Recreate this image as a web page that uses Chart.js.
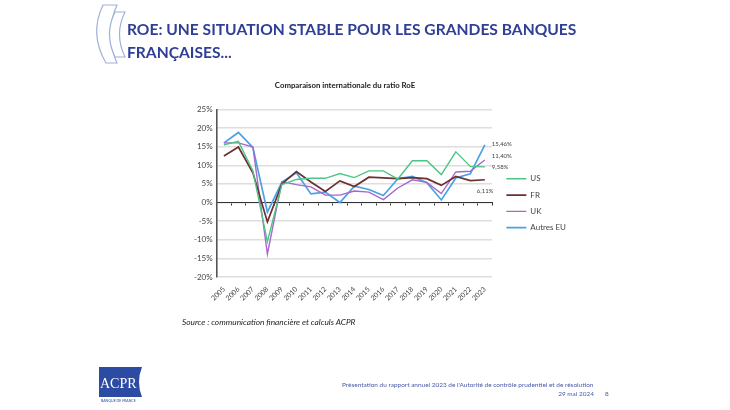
<!DOCTYPE html>
<html><head><meta charset="utf-8">
<script src="https://cdn.jsdelivr.net/npm/chart.js@4"></script>
<style>
html,body{margin:0;padding:0;background:#fff;width:730px;height:410px;overflow:hidden}
#page{position:relative;width:730px;height:410px;filter:blur(.45px)}
canvas{position:absolute;left:0;top:0}
.t{position:absolute;white-space:nowrap}
#h1,#h2{left:127px;font:700 15.6px Lato,sans-serif;color:#2f3f95}
#h1{top:20px}#h2{top:43px}
#src{left:182px;top:317px;font:italic 400 8.3px Lato,sans-serif;color:#222}
.f{font:6.46px Lato,sans-serif;color:#4a5aa5}
</style></head><body>
<div id="page">
<svg style="position:absolute;left:0;top:0" width="730" height="410">
<path d="M103 5L117 5Q104 34 117 63L106 63Q89 34 103 5Z" fill="#fff" stroke="#9fb0da" stroke-width="1.2"/>
<path d="M115 12L125 12Q114 34 125 57L115 57Q104 34 115 12Z" fill="#fff" stroke="#9fb0da" stroke-width="1.2"/>
<path d="M99 367H142Q136 382 142 397H99Z" fill="#2c4ba3"/>
<text x="100" y="388" font-family="Liberation Serif" font-size="14" fill="#fff">ACPR</text>
<text x="101" y="402" font-family="Lato" font-size="3.5" fill="#2c4ba3">BANQUE DE FRANCE</text>
</svg>
<canvas id="c" width="690" height="320"></canvas>
<div class="t" id="h1">ROE: UNE SITUATION STABLE POUR LES GRANDES BANQUES</div>
<div class="t" id="h2">FRANÇAISES...</div>
<div class="t" id="src">Source : communication financière et calculs ACPR</div>
<div class="t f" style="left:342px;top:381px">Présentation du rapport annuel 2023 de l'Autorité de contrôle prudentiel et de résolution</div>
<div class="t f" style="right:136px;top:390px">29 mai 2024</div>
<div class="t f" style="left:605px;top:390px">8</div>
</div>
<script>
const years=['2005','2006','2007','2008','2009','2010','2011','2012','2013','2014','2015','2016','2017','2018','2019','2020','2021','2022','2023'];
const us=[15.5,16.4,8.5,-10.5,4.8,6.2,6.5,6.5,7.8,6.7,8.5,8.5,6.3,11.2,11.2,7.5,13.6,9.7,9.58];
const fr=[12.5,14.9,8,-5.2,5,8.3,5.5,3,5.8,4.3,6.8,6.6,6.4,6.7,6.4,4.6,7,5.9,6.11];
const uk=[16,16,14.9,-13.8,5.6,4.8,4.2,2,2,3.1,2.8,0.8,3.9,6.1,5.4,2.4,8.2,8.4,11.4];
const autres=[16,18.8,14.8,-2.6,5.5,8,2.3,2.8,0,4.4,3.5,1.9,6.4,7,5.3,0.7,6.6,7.7,15.46];
const names=['US','FR','UK','Autres EU'];
const endLabels=['9,58%','6,11%','11,40%','15,46%'];
const FONT='Lato, sans-serif';
const endLabelPlugin={id:'endLabels',afterDatasetsDraw(ch){
  const ctx=ch.ctx;ctx.save();ctx.font='6px '+FONT;ctx.fillStyle='#444';ctx.textBaseline='middle';
  const off=[[7,0],[-8,11],[7,-4],[7,-1]];
  ch.data.datasets.forEach((d,i)=>{const x=ch.scales.x.getPixelForValue(d.data.length-1),y=ch.scales.y.getPixelForValue(d.data[d.data.length-1]);
    ctx.fillText(endLabels[i],x+off[i][0],y+off[i][1]);});
  ctx.restore();}};
const placeBoxes={id:'placeBoxes',afterLayout(ch){const l=ch.legend;l.top+=52;l.bottom+=52;l.left+=6;l.right+=6;
  ch.titleBlock.left=0;ch.titleBlock.right=690;}};
new Chart(document.getElementById('c'),{type:'line',
 data:{labels:years,datasets:[
  {label:names[0],data:us,borderColor:'#4cc585',borderWidth:1.4},
  {label:names[1],data:fr,borderColor:'#6b2f2f',borderWidth:1.7},
  {label:names[2],data:uk,borderColor:'#a668cc',borderWidth:1.4},
  {label:names[3],data:autres,borderColor:'#4ba2e2',borderWidth:1.7}]},
 plugins:[endLabelPlugin,placeBoxes],
 options:{responsive:false,animation:false,devicePixelRatio:1,
  elements:{point:{radius:0},line:{tension:0}},
  layout:{padding:{left:190,right:120,top:0,bottom:17.5}},
  plugins:{
   title:{display:true,text:'Comparaison internationale du ratio RoE',color:'#222',font:{family:FONT,size:7.8,weight:'bold'},padding:{top:81,bottom:19}},
   legend:{position:'right',labels:{usePointStyle:true,pointStyle:'line',pointStyleWidth:20,boxHeight:8,color:'#444',font:{family:FONT,size:8},padding:8.3}},
   tooltip:{enabled:false}},
  scales:{
   x:{type:'category',offset:true,grid:{display:false},border:{display:false},
      ticks:{autoSkip:false,minRotation:45,maxRotation:45,color:'#444',font:{family:FONT,size:7},padding:0}},
   x0:{type:'category',labels:years,offset:true,position:{y:0},grid:{offset:true,drawOnChartArea:false,drawTicks:true,tickLength:2.5,color:'#333'},border:{display:true,color:'#333',width:1},ticks:{display:false,autoSkip:false}},
   y:{min:-20,max:25,grid:{color:'#dedede',lineWidth:1.4,drawTicks:false},border:{display:true,color:'#555',width:1.6},
      ticks:{stepSize:5,padding:4,color:'#444',font:{family:FONT,size:8},callback:v=>v+'%'}}
  }}});
</script>
</body></html>
